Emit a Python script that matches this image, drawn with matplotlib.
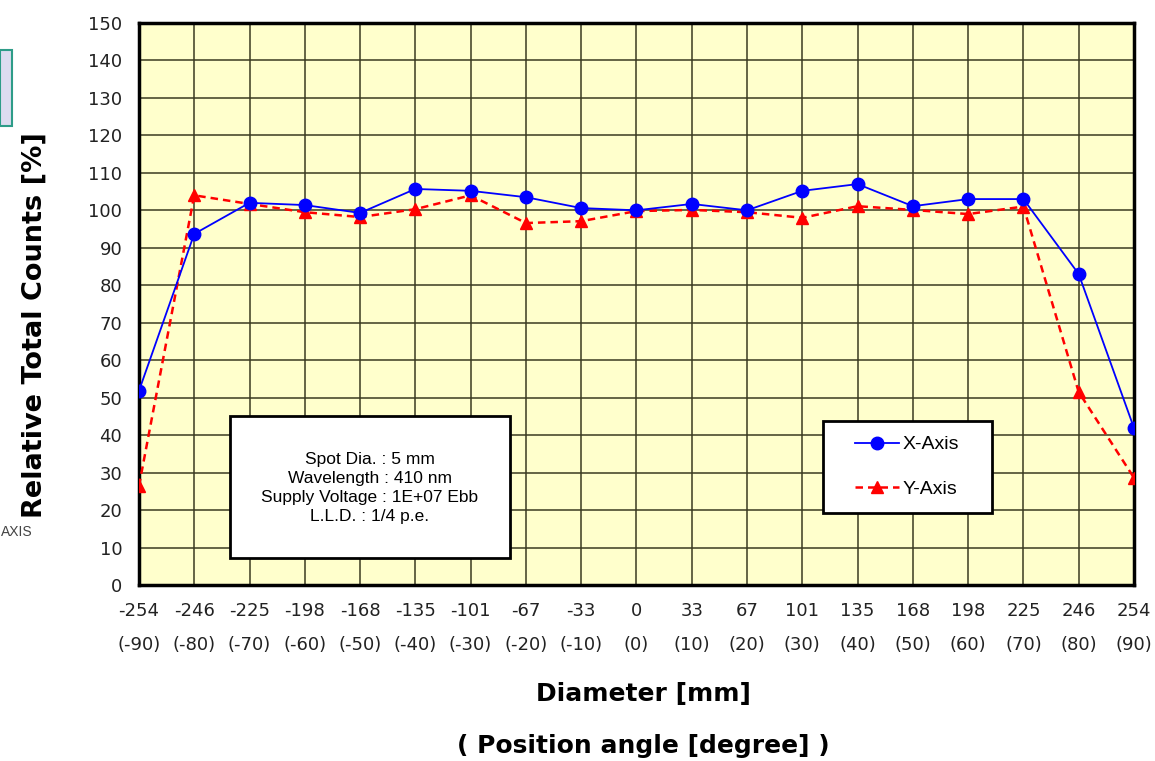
import matplotlib.pyplot as plt
from matplotlib.patches import Rectangle

# positions along the diameter and matching angles
diameter_mm = [-254, -246, -225, -198, -168, -135, -101, -67, -33, 0,
               33, 67, 101, 135, 168, 198, 225, 246, 254]
angle_deg = [-90, -80, -70, -60, -50, -40, -30, -20, -10, 0,
             10, 20, 30, 40, 50, 60, 70, 80, 90]

# relative total counts [%]
x_axis_counts = [51.8, 93.7, 102.0, 101.4, 99.3, 105.7, 105.2, 103.5, 100.6, 100.0,
                 101.7, 100.0, 105.2, 107.0, 101.1, 103.0, 103.0, 83.0, 41.9]
y_axis_counts = [26.4, 104.0, 101.7, 99.5, 98.2, 100.3, 104.0, 96.6, 97.1, 99.8,
                 100.1, 99.5, 98.0, 101.1, 100.1, 99.0, 101.0, 51.5, 28.6]

conditions = ["Spot Dia. : 5 mm", "Wavelength : 410 nm",
              "Supply Voltage : 1E+07 Ebb", "L.L.D. : 1/4 p.e."]

fig = plt.figure(figsize=(11.55, 7.61), dpi=100)
ax = fig.add_axes([0.1203, 0.2313, 0.8615, 0.7385])
ax.set_facecolor('#ffffcc')

pos = list(range(len(diameter_mm)))
ax.plot(pos, x_axis_counts, '-o', color='#0000ff', lw=1.3, ms=9,
        label='X-Axis', zorder=4)
ax.plot(pos, y_axis_counts, '--^', color='#ff0000', lw=1.8, ms=8,
        label='Y-Axis', zorder=3, dashes=(3, 2))

ax.set_xlim(0, len(pos) - 1)
ax.set_ylim(0, 150)
ax.set_yticks(range(0, 151, 10))
ax.set_xticks(pos)
ax.set_xticklabels([f"{d}\n({a})" for d, a in zip(diameter_mm, angle_deg)],
                   linespacing=2.2)
ax.tick_params(axis='both', length=0, labelsize=13, colors='#222222')
ax.tick_params(axis='x', pad=12)
ax.tick_params(axis='y', pad=12)
ax.grid(True, color='#3a3a20', lw=1.1)
ax.set_axisbelow(True)
for sp in ax.spines.values():
    sp.set_linewidth(2.5)
    sp.set_color('black')

fig.text(0.0303, 0.573, 'Relative Total Counts [%]', fontsize=19.5,
         fontweight='bold', rotation=90, ha='center', va='center')
fig.text(0.5567, 0.088, 'Diameter [mm]', fontsize=18, fontweight='bold',
         ha='center', va='center')
fig.text(0.5567, 0.02, '( Position angle [degree] )', fontsize=18,
         fontweight='bold', ha='center', va='center')

# measurement conditions box
ax.add_patch(Rectangle((0.0915, 0.048), 0.2815, 0.253, transform=ax.transAxes,
                       facecolor='white', edgecolor='black', lw=2, zorder=5))
ax.text(0.232, 0.173, "\n".join(conditions), transform=ax.transAxes,
        ha='center', va='center', fontsize=12.5, family='Liberation Sans',
        linespacing=1.32, zorder=6)

# legend frame drawn separately so its padding can be set freely
ax.add_patch(Rectangle((0.6874, 0.128), 0.1698, 0.1637, transform=ax.transAxes,
                       facecolor='white', edgecolor='black', lw=2, zorder=5))
leg = ax.legend(loc='center', bbox_to_anchor=(0.772, 0.21), frameon=False,
                prop={'family': 'Liberation Sans', 'size': 13},
                handlelength=2.4, labelspacing=1.5, borderpad=0,
                handletextpad=0.2, borderaxespad=0)
leg.set_zorder(6)
for t in leg.get_texts():
    t.set_fontsize(14)

# leftover pieces at the left edge
fig.patches.append(Rectangle((0, 0.834), 0.0104, 0.1, transform=fig.transFigure,
                             facecolor='#dddcf0', edgecolor='#2e9c88', lw=1.5))
fig.text(0.001, 0.301, 'AXIS', fontsize=10, color='#444444',
         family='Liberation Sans', va='center')

fig.savefig('out.png', dpi=100)
